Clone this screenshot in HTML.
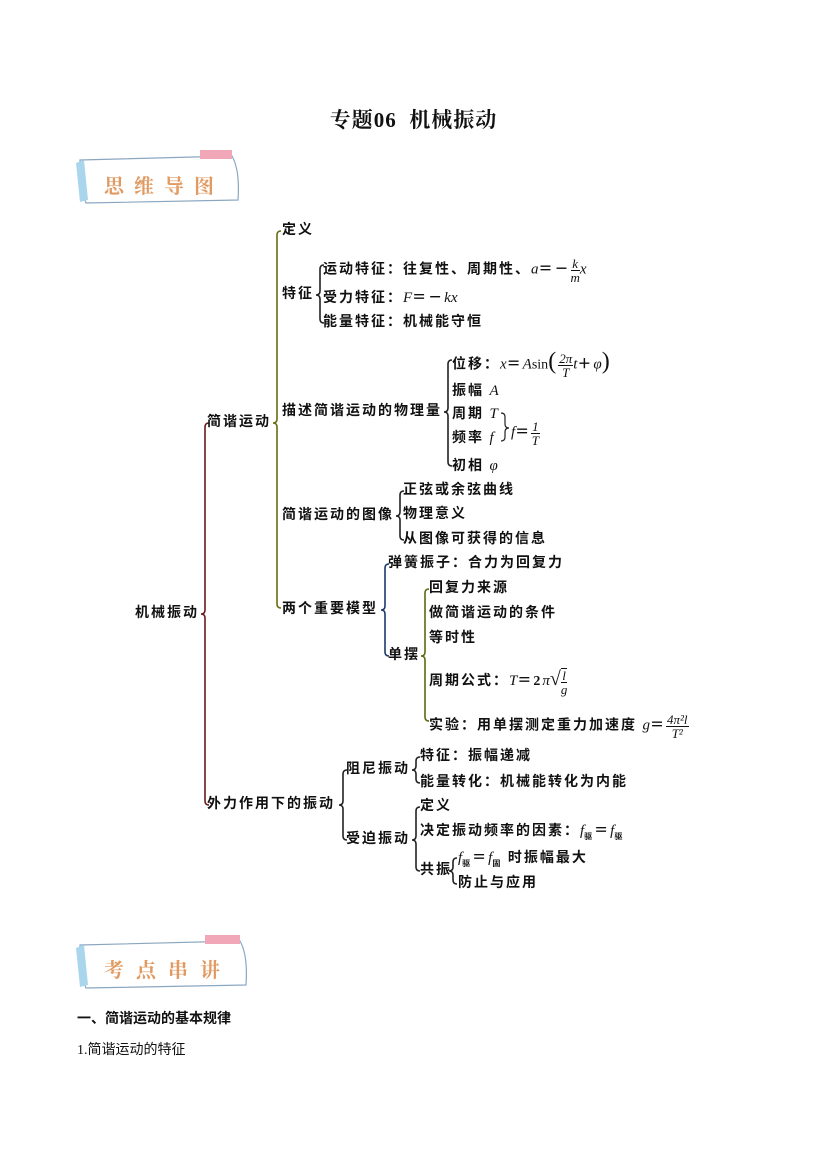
<!DOCTYPE html>
<html><head><meta charset="utf-8"><style>
body{margin:0;background:#fff;}
#p{position:relative;width:827px;height:1169px;overflow:hidden;font-family:"Liberation Serif","Noto Serif CJK SC","Noto Sans CJK SC",serif;}
.t{position:absolute;font-size:14px;font-weight:bold;line-height:16px;white-space:nowrap;color:#111;letter-spacing:2px;font-family:"Liberation Serif","Noto Sans CJK SC",sans-serif;}
.i{font-style:italic;font-family:"Liberation Serif",serif;font-weight:normal;font-size:15px;letter-spacing:0;}
.fr{display:inline-block;vertical-align:middle;text-align:center;font-size:13px;line-height:13px;font-style:italic;font-weight:normal;letter-spacing:0;}
.fr span{display:block;}
.fr .n{border-bottom:1px solid #111;padding:0 1px;}
</style></head><body><div id="p">
<div class="t" style="left:0;width:827px;text-align:center;top:108px;font-size:21px;line-height:24px;letter-spacing:1px;font-family:'Liberation Serif','Noto Serif CJK SC',serif;">专题06&nbsp; 机械振动</div>

<svg width="827" height="1169" style="position:absolute;left:0;top:0" fill="none" stroke-width="1.6">
<g>
<path d="M80 160 L232 156 Q240 170 238 200 L86 203 Q80 190 80 160Z" fill="#fff" stroke="#8aa7c0" stroke-width="1.2"/>
<path d="M76 163 L84 160 L88 200 L80 202Z" fill="#a9d6ec" stroke="none"/>
<rect x="200" y="150" width="32" height="9" fill="#f1a7b8" stroke="none"/>
<text x="104" y="193" font-size="20" font-weight="bold" fill="#e09a62" stroke="none" font-family="Noto Serif CJK SC,serif" letter-spacing="10">思维导图</text>
</g>
<g>
<path d="M80 945 L240 941 Q248 955 246 985 L86 988 Q80 975 80 945Z" fill="#fff" stroke="#8aa7c0" stroke-width="1.2"/>
<path d="M76 948 L84 945 L88 985 L80 987Z" fill="#a9d6ec" stroke="none"/>
<rect x="205" y="935" width="35" height="9" fill="#f1a7b8" stroke="none"/>
<text x="104" y="977" font-size="20" font-weight="bold" fill="#e09a62" stroke="none" font-family="Noto Serif CJK SC,serif" letter-spacing="12">考点串讲</text>
</g>
<path d="M209 423 Q205 423 205 427 L205 610 Q205 614 201 614 Q205 614 205 618 L205 801 Q205 805 209 805" stroke="#6b1a1a"/>
<path d="M281 231 Q277 231 277 235 L277 419 Q277 423 273 423 Q277 423 277 427 L277 604 Q277 608 281 608" stroke="#6b6b10"/>
<path d="M324 265 Q320 265 320 269 L320 291 Q320 295 316 295 Q320 295 320 299 L320 319 Q320 323 324 323" stroke="#222"/>
<path d="M452 360 Q448 360 448 364 L448 408 Q448 412 444 412 Q448 412 448 416 L448 462 Q448 466 452 466" stroke="#222"/>
<path d="M501 413 Q505 413 505 417 L505 424 Q505 428 509 428 Q505 428 505 432 L505 437 Q505 441 501 441" stroke="#222" stroke-width="1.2"/>
<path d="M404 491 Q400 491 400 495 L400 512 Q400 516 396 516 Q400 516 400 520 L400 536 Q400 540 404 540" stroke="#222"/>
<path d="M389 564 Q385 564 385 568 L385 606 Q385 610 381 610 Q385 610 385 614 L385 652 Q385 656 389 656" stroke="#1a3a6b"/>
<path d="M429 589 Q425 589 425 593 L425 652 Q425 656 421 656 Q425 656 425 660 L425 717 Q425 721 429 721" stroke="#5a6b10"/>
<path d="M347 770 Q343 770 343 774 L343 801 Q343 805 339 805 Q343 805 343 809 L343 836 Q343 840 347 840" stroke="#222"/>
<path d="M420 757 Q416 757 416 761 L416 766 Q416 770 412 770 Q416 770 416 774 L416 779 Q416 783 420 783" stroke="#222"/>
<path d="M420 807 Q416 807 416 811 L416 836 Q416 840 412 840 Q416 840 416 844 L416 867 Q416 871 420 871" stroke="#222"/>
<path d="M457 858 Q453 858 453 862 L453 867 Q453 871 449 871 Q453 871 453 875 L453 880 Q453 884 457 884" stroke="#222"/>
</svg>

<div class="t" style="left:135px;top:606px">机械振动</div>
<div class="t" style="left:207px;top:415px">简谐运动</div>
<div class="t" style="left:207px;top:797px">外力作用下的振动</div>
<div class="t" style="left:282px;top:223px">定义</div>
<div class="t" style="left:282px;top:287px">特征</div>
<div class="t" style="left:323px;top:257px">运动特征：往复性、周期性、<span class="i">a</span>＝－<span class="fr"><span class="n">k</span><span>m</span></span><span class="i">x</span></div>
<div class="t" style="left:323px;top:290px">受力特征：<span class="i">F</span>＝－<span class="i">kx</span></div>
<div class="t" style="left:323px;top:315px">能量特征：机械能守恒</div>
<div class="t" style="left:282px;top:404px">描述简谐运动的物理量</div>
<div class="t" style="left:452px;top:352px">位移：<span class="i">x</span>＝<span class="i">A</span><span style="font-weight:normal;letter-spacing:0">sin</span><span style="font-size:24px;font-weight:normal">(</span><span class="fr"><span class="n">2π</span><span>T</span></span><span class="i">t</span>＋<span class="i">φ</span><span style="font-size:24px;font-weight:normal">)</span></div>
<div class="t" style="left:452px;top:383px">振幅 <span class="i">A</span></div>
<div class="t" style="left:452px;top:406px">周期 <span class="i">T</span></div>
<div class="t" style="left:452px;top:430px">频率 <span class="i">f</span></div>
<div class="t" style="left:511px;top:420px"><span class="i">f</span>＝<span class="fr"><span class="n">1</span><span>T</span></span></div>
<div class="t" style="left:452px;top:458px">初相 <span class="i">φ</span></div>
<div class="t" style="left:282px;top:508px">简谐运动的图像</div>
<div class="t" style="left:403px;top:483px">正弦或余弦曲线</div>
<div class="t" style="left:403px;top:507px">物理意义</div>
<div class="t" style="left:403px;top:532px">从图像可获得的信息</div>
<div class="t" style="left:282px;top:602px">两个重要模型</div>
<div class="t" style="left:388px;top:556px">弹簧振子：合力为回复力</div>
<div class="t" style="left:388px;top:648px">单摆</div>
<div class="t" style="left:429px;top:581px">回复力来源</div>
<div class="t" style="left:429px;top:606px">做简谐运动的条件</div>
<div class="t" style="left:429px;top:631px">等时性</div>
<div class="t" style="left:429px;top:668px">周期公式：<span class="i">T</span>＝2<span class="i">π</span><span style="font-size:20px;font-weight:normal;letter-spacing:0">√</span><span class="fr" style="border-top:1px solid #111"><span class="n">l</span><span>g</span></span></div>
<div class="t" style="left:429px;top:713px">实验：用单摆测定重力加速度 <span class="i">g</span>＝<span class="fr"><span class="n">4π²<i>l</i></span><span>T²</span></span></div>
<div class="t" style="left:346px;top:762px">阻尼振动</div>
<div class="t" style="left:346px;top:832px">受迫振动</div>
<div class="t" style="left:420px;top:749px">特征：振幅递减</div>
<div class="t" style="left:420px;top:775px">能量转化：机械能转化为内能</div>
<div class="t" style="left:420px;top:799px">定义</div>
<div class="t" style="left:420px;top:823px">决定振动频率的因素：<span class="i">f</span><sub style="font-size:8px">驱</sub>＝<span class="i">f</span><sub style="font-size:8px">驱</sub></div>
<div class="t" style="left:420px;top:863px">共振</div>
<div class="t" style="left:458px;top:850px"><span class="i">f</span><sub style="font-size:8px">驱</sub>＝<span class="i">f</span><sub style="font-size:8px">固</sub> 时振幅最大</div>
<div class="t" style="left:458px;top:876px">防止与应用</div>

<div class="t" style="left:77px;top:1012px;letter-spacing:0">一、简谐运动的基本规律</div>
<div class="t" style="left:77px;top:1043px;font-weight:normal;letter-spacing:0">1.简谐运动的特征</div>
</div></body></html>
